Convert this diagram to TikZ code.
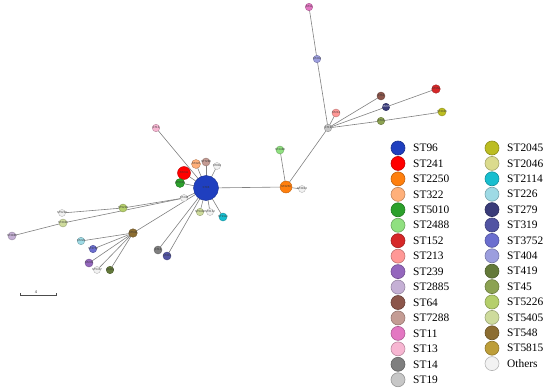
\documentclass[tikz,border=0pt]{standalone}
\usepackage{fontspec}
\setmainfont{Liberation Serif}
\newfontfamily\lblfont{Liberation Sans}
\usetikzlibrary{backgrounds}
\definecolor{c96}{HTML}{1F3FBF}
\definecolor{c241}{HTML}{FF0000}
\definecolor{c2250}{HTML}{FF7F0E}
\definecolor{c322}{HTML}{FFB07A}
\definecolor{c5010}{HTML}{2CA02C}
\definecolor{c2488}{HTML}{90E080}
\definecolor{c152}{HTML}{D62728}
\definecolor{c213}{HTML}{FF9896}
\definecolor{c239}{HTML}{9467BD}
\definecolor{c2885}{HTML}{C5B0D5}
\definecolor{c64}{HTML}{8C564B}
\definecolor{c7288}{HTML}{C49C94}
\definecolor{c11}{HTML}{E377C2}
\definecolor{c13}{HTML}{F7B6D2}
\definecolor{c14}{HTML}{7F7F7F}
\definecolor{c19}{HTML}{C7C7C7}
\definecolor{c2045}{HTML}{BCBD22}
\definecolor{c2046}{HTML}{DBDB8D}
\definecolor{c2114}{HTML}{17BECF}
\definecolor{c226}{HTML}{9EDAE5}
\definecolor{c279}{HTML}{393B79}
\definecolor{c319}{HTML}{5254A3}
\definecolor{c3752}{HTML}{6B6ECF}
\definecolor{c404}{HTML}{9C9EDE}
\definecolor{c419}{HTML}{637939}
\definecolor{c45}{HTML}{8CA252}
\definecolor{c5226}{HTML}{B5CF6B}
\definecolor{c5405}{HTML}{CEDB9C}
\definecolor{c548}{HTML}{8C6D31}
\definecolor{c5815}{HTML}{BD9E39}
\definecolor{cother}{HTML}{F2F2F2}
\tikzset{
  st/.style={circle, fill=#1, draw=#1!75!black, line width=0.4pt, inner sep=0pt, minimum size=7.5},
  lbl/.style={font=\lblfont\fontsize{2.8}{3}\selectfont, text=black!80, inner sep=0pt},
  edge/.style={draw=black!50, line width=0.6pt},
  legc/.style={circle, fill=#1, draw=#1!75!black, line width=0.6pt, inner sep=0pt, minimum size=14},
  legt/.style={anchor=west, font=\fontsize{11.4}{12}\selectfont, inner sep=0pt}
}
\begin{document}
\begin{tikzpicture}[x=1pt,y=-1pt]
\useasboundingbox (0,0) rectangle (550,388);
% central cluster
\node[st=c96, minimum size=25, label={[lbl]center:ST96}] (n96) at (206,188) {};
\node[st=c241, minimum size=13, label={[lbl]center:ST241}] (n241) at (184,173) {};
\node[st=c322, minimum size=9, label={[lbl]center:ST322}] (n322) at (196,164) {};
\node[st=c7288, minimum size=8, label={[lbl]center:ST7288}] (n7288) at (206,162) {};
\node[st=cother, minimum size=7, label={[lbl]center:ST884}] (n884) at (217,166) {};
\node[st=c5010, minimum size=9, label={[lbl]center:ST5010}] (n5010) at (180,183) {};
\node[st=cother, minimum size=7, label={[lbl]center:ST448}] (n448) at (184,198) {};
\node[st=c5405, minimum size=7.5, label={[lbl]center:ST5408}] (n5408) at (200,212) {};
\node[st=cother, minimum size=7, label={[lbl]center:ST6132}] (n6132) at (210,212) {};
\node[st=c2114, minimum size=8, label={[lbl]center:ST2114}] (n2114) at (223,217) {};
\node[st=c14, minimum size=8, label={[lbl]center:ST14}] (n14) at (158,250) {};
\node[st=c319, minimum size=8, label={[lbl]center:ST319}] (n319) at (167,256) {};
\node[st=c13, minimum size=7.5, label={[lbl]center:ST13}] (n13) at (156,128) {};
% right branch
\node[st=c2250, minimum size=12, label={[lbl]center:ST2250}] (n2250) at (286,187) {};
\node[st=cother, minimum size=7, label={[lbl]center:ST2823}] (n2823) at (302,189) {};
\node[st=c2488, minimum size=8, label={[lbl]center:ST2488}] (n2488) at (280,150) {};
\node[st=c19, minimum size=7.5, label={[lbl]center:ST19}] (nhub) at (328,128) {};
\node[st=c404, minimum size=7.5, label={[lbl]center:ST404}] (n404) at (317,59) {};
\node[st=c11, minimum size=7.5, label={[lbl]center:ST11}] (n11) at (309,7) {};
\node[st=c213, minimum size=8, label={[lbl]center:ST213}] (n213) at (336,113) {};
\node[st=c64, minimum size=8, label={[lbl]center:ST64}] (n64) at (381,96) {};
\node[st=c279, minimum size=7.5, label={[lbl,text=white]center:ST279}] (n279) at (386,107) {};
\node[st=c152, minimum size=8.5, label={[lbl]center:ST152}] (n152) at (436,89) {};
\node[st=c45, minimum size=7.5, label={[lbl]center:ST45}] (n45) at (381,121) {};
\node[st=c2045, minimum size=8, label={[lbl]center:ST2045}] (n2045) at (442,112) {};
% left branch
\node[st=c5226, minimum size=8, label={[lbl]center:ST5226}] (n5226) at (123,208) {};
\node[st=cother, minimum size=7, label={[lbl]center:ST5229}] (n5229) at (62,213) {};
\node[st=c5405, minimum size=8, label={[lbl]center:ST2046}] (n2046) at (63,223) {};
\node[st=c2885, minimum size=8, label={[lbl]center:ST2885}] (n2885) at (12,236) {};
\node[st=c548, minimum size=8.5, label={[lbl]center:ST548}] (n548) at (133,233) {};
\node[st=c226, minimum size=7.5, label={[lbl]center:ST226}] (n226) at (81,241) {};
\node[st=c3752, minimum size=7.5, label={[lbl]center:ST3752}] (n3752) at (93,249) {};
\node[st=c239, minimum size=8, label={[lbl]center:ST239}] (n239) at (89,263) {};
\node[st=cother, minimum size=7, label={[lbl]center:ST5407}] (n5407) at (97,270) {};
\node[st=c419, minimum size=7.5, label={[lbl]center:ST419}] (n419) at (110,270) {};
% edges
\begin{pgfonlayer}{background}
\foreach \a/\b in {n96/n241,n96/n322,n96/n7288,n96/n884,n96/n5010,n96/n448,n96/n5408,n96/n6132,n96/n2114,n96/n14,n96/n319,n96/n13,n96/n548,n96/n2250,
  n2250/n2823,n2250/n2488,n2250/nhub,nhub/n404,n404/n11,nhub/n213,nhub/n64,nhub/n279,n279/n152,nhub/n45,n45/n2045,
  n448/n5226,n5226/n5229,n448/n2046,n2046/n2885,n548/n226,n548/n3752,n548/n239,n548/n5407,n548/n419}
  \draw[edge] (\a.center) -- (\b.center);
\end{pgfonlayer}
% scale bar
\coordinate (sbl) at (20,295);
\coordinate (sbr) at (56,295);
\draw[black!70, line width=0.6pt] ([yshift=2pt]sbl) -- (sbl) -- (sbr) -- ([yshift=2pt]sbr);
\node[lbl, font=\lblfont\fontsize{4}{4}\selectfont] (sblab) at (36,292) {4};
% legend
\foreach \nm/\cl [count=\i from 0] in {ST96/c96,ST241/c241,ST2250/c2250,ST322/c322,ST5010/c5010,ST2488/c2488,ST152/c152,ST213/c213,ST239/c239,ST2885/c2885,ST64/c64,ST7288/c7288,ST11/c11,ST13/c13,ST14/c14,ST19/c19}{
  \node[legc=\cl] (la\i) at (398,{148+15.45*\i}) {};
  \node[legt] (lat\i) at (413,{148+15.45*\i}) {\nm};
}
\foreach \nm/\cl [count=\i from 0] in {ST2045/c2045,ST2046/c2046,ST2114/c2114,ST226/c226,ST279/c279,ST319/c319,ST3752/c3752,ST404/c404,ST419/c419,ST45/c45,ST5226/c5226,ST5405/c5405,ST548/c548,ST5815/c5815,Others/cother}{
  \node[legc=\cl] (lb\i) at (492,{148+15.4*\i}) {};
  \node[legt] (lbt\i) at (507,{148+15.4*\i}) {\nm};
}
\end{tikzpicture}
\end{document}
